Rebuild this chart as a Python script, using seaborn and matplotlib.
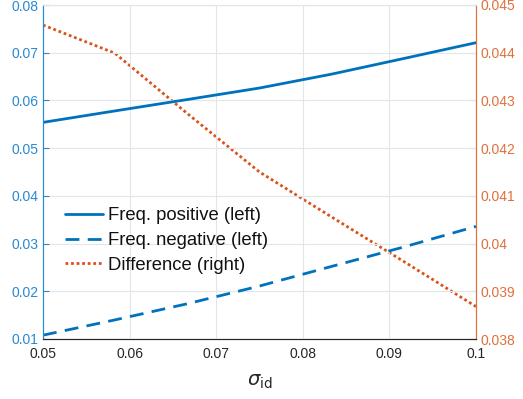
import matplotlib
matplotlib.use("Agg")
import matplotlib.pyplot as plt
import seaborn as sns
import pandas as pd

sigma = [0.05, 0.0583, 0.0667, 0.075, 0.0833, 0.0917, 0.1]
freq_pos = [0.0554, 0.0578, 0.0602, 0.0626, 0.0655, 0.0688, 0.0721]
freq_neg = [0.0108, 0.0140, 0.0174, 0.0211, 0.0252, 0.0293, 0.0336]
diff = [0.04458, 0.04399, 0.04272, 0.04150, 0.04056, 0.03962, 0.03868]

x_ticks = [0.05, 0.06, 0.07, 0.08, 0.09, 0.1]
x_labels = ["0.05", "0.06", "0.07", "0.08", "0.09", "0.1"]
left_ticks = [0.01, 0.02, 0.03, 0.04, 0.05, 0.06, 0.07, 0.08]
right_ticks = [0.038, 0.039, 0.040, 0.041, 0.042, 0.043, 0.044, 0.045]
right_labels = ["0.038", "0.039", "0.04", "0.041", "0.042", "0.043", "0.044", "0.045"]

df = pd.DataFrame({"sigma": sigma, "pos": freq_pos, "neg": freq_neg, "diff": diff})

sns.set_style("white")
plt.rcParams["font.family"] = ["Liberation Sans", "DejaVu Sans"]

BLUE = "#0072BD"
ORANGE = "#D95319"
LBLUE = "#2a8ad0"
RORANGE = "#e0703a"

fig = plt.figure(figsize=(5.23, 3.99), dpi=100)
ax = fig.add_axes([43/523, 60/399, (476-43)/523, (339-5)/399])
ax2 = ax.twinx()

sns.lineplot(data=df, x="sigma", y="pos", ax=ax, color=BLUE, lw=2, label="Freq. positive (left)", legend=False)
sns.lineplot(data=df, x="sigma", y="neg", ax=ax, color=BLUE, lw=2, linestyle=(0, (5, 3)), label="Freq. negative (left)", legend=False)
sns.lineplot(data=df, x="sigma", y="diff", ax=ax2, color=ORANGE, lw=2, linestyle=(0, (1, 1)), label="Difference (right)", legend=False)

ax.set_xlim(0.05, 0.1)
ax.set_ylim(0.01, 0.08)
ax2.set_ylim(0.038, 0.045)
ax.set_xticks(x_ticks)
ax.set_xticklabels(x_labels)
ax.set_yticks(left_ticks)
ax.set_yticklabels([f"{v:.2f}" for v in left_ticks])
ax2.set_yticks(right_ticks)
ax2.set_yticklabels(right_labels)

ax.grid(True, color="#e1e6ea", lw=0.8)
ax.set_axisbelow(True)

ax.tick_params(axis="x", direction="in", length=4, colors="#262626", labelsize=10, top=False, pad=6)
ax.tick_params(axis="y", direction="in", length=4, color=LBLUE, labelcolor=LBLUE, labelsize=10, pad=3)
ax2.tick_params(axis="y", direction="in", length=4, color=RORANGE, labelcolor=RORANGE, labelsize=10, pad=3)

for a in (ax, ax2):
    a.spines["left"].set_color(LBLUE)
    a.spines["right"].set_color(RORANGE)
    a.spines["bottom"].set_color("#262626")
    a.spines["top"].set_color("#e1e6ea")
    for s in a.spines.values():
        s.set_linewidth(0.8)

ax.set_xlabel(r"$\sigma_{\mathrm{id}}$", fontsize=14, color="#262626", labelpad=8)
ax.set_ylabel("")
ax2.set_ylabel("")

h1, l1 = ax.get_legend_handles_labels()
h2, l2 = ax2.get_legend_handles_labels()
leg = ax.legend(h1 + h2, l1 + l2, loc="upper left", bbox_to_anchor=(0.051, 0.394), frameon=False,
                fontsize=13.3, handlelength=2.05, handletextpad=0.25, labelspacing=0.42,
                borderaxespad=0, borderpad=0)
for t in leg.get_texts():
    t.set_color("#111111")
ax.set_zorder(ax2.get_zorder() + 1)
ax.patch.set_visible(False)

fig.savefig("out.png", dpi=100)
